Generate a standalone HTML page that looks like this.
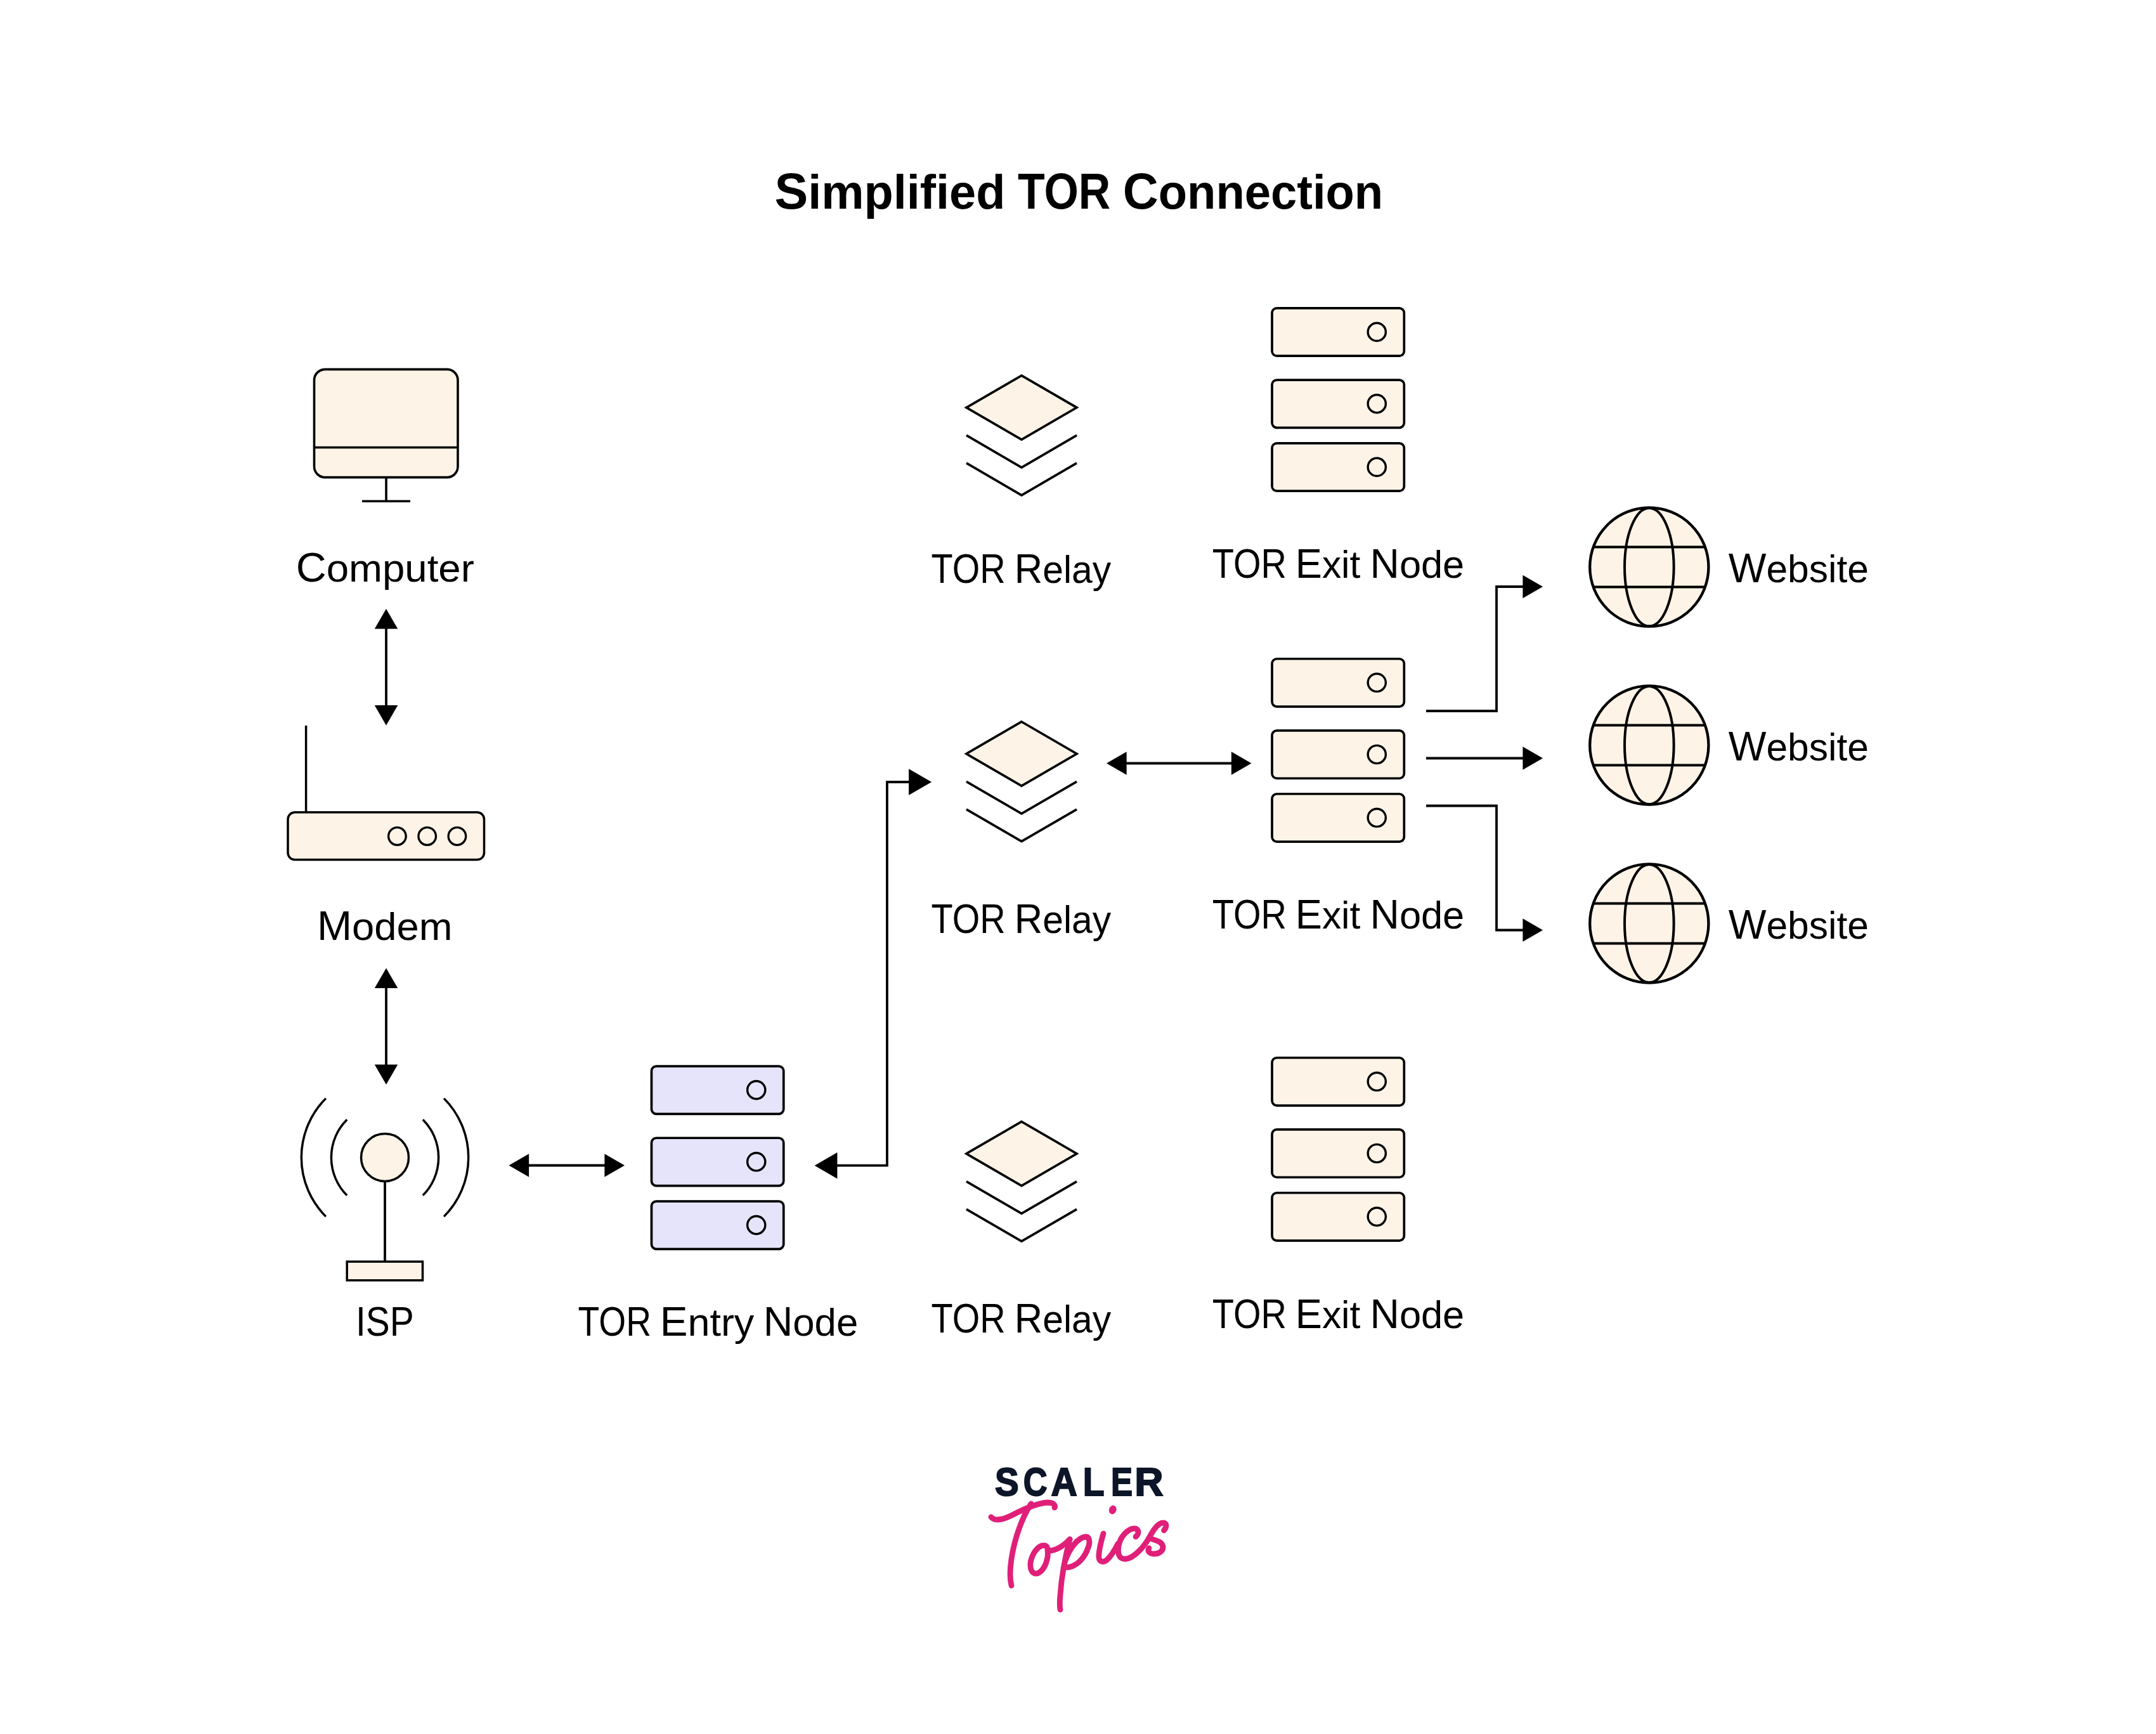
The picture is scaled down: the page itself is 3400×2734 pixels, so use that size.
<!DOCTYPE html>
<html><head><meta charset="utf-8"><style>
html,body{margin:0;padding:0;background:#fff;}
svg{display:block;}
text{font-family:"Liberation Sans", sans-serif;}
</style></head><body>
<svg width="3400" height="2734" viewBox="0 0 3400 2734">
<rect width="3400" height="2734" fill="#fff"/>
<text x="1569.0" y="2357.6" font-size="62.5" font-weight="bold" textLength="37.6" lengthAdjust="spacingAndGlyphs" fill="#0c1628" stroke="#0c1628" stroke-width="2">S</text>
<text x="1613.8" y="2357.6" font-size="62.5" font-weight="bold" textLength="37.79" lengthAdjust="spacingAndGlyphs" fill="#0c1628" stroke="#0c1628" stroke-width="2">C</text>
<text x="1657.6" y="2357.6" font-size="62.5" font-weight="bold" textLength="41.32" lengthAdjust="spacingAndGlyphs" fill="#0c1628" stroke="#0c1628" stroke-width="2">A</text>
<text x="1707.8" y="2357.6" font-size="62.5" font-weight="bold" textLength="33.83" lengthAdjust="spacingAndGlyphs" fill="#0c1628" stroke="#0c1628" stroke-width="2">L</text>
<text x="1752.0" y="2357.6" font-size="62.5" font-weight="bold" textLength="34.08" lengthAdjust="spacingAndGlyphs" fill="#0c1628" stroke="#0c1628" stroke-width="2">E</text>
<text x="1789.2" y="2357.6" font-size="62.5" font-weight="bold" textLength="45.3" lengthAdjust="spacingAndGlyphs" fill="#0c1628" stroke="#0c1628" stroke-width="2">R</text>
<text x="1221.6" y="329.1" font-size="78.78" font-weight="bold" textLength="363.76" lengthAdjust="spacingAndGlyphs" fill="#000">S<tspan font-size="75.39">implified</tspan></text>
<text x="1605.0" y="329.1" font-size="78.78" font-weight="bold" textLength="146.26" lengthAdjust="spacingAndGlyphs" fill="#000">TOR</text>
<text x="1770.8" y="329.1" font-size="78.78" font-weight="bold" textLength="410.37" lengthAdjust="spacingAndGlyphs" fill="#000">C<tspan font-size="75.39">onnection</tspan></text>
<text x="466.8" y="917.2" font-size="64.68" font-weight="normal" textLength="281.06" lengthAdjust="spacingAndGlyphs" fill="#000">C<tspan font-size="61.90">omputer</tspan></text>
<text x="500.0" y="1481.5" font-size="64.68" font-weight="normal" textLength="213.42" lengthAdjust="spacingAndGlyphs" fill="#000">M<tspan font-size="61.90">odem</tspan></text>
<text x="561.0" y="2106.3" font-size="64.68" font-weight="normal" textLength="91.74" lengthAdjust="spacingAndGlyphs" fill="#000">ISP</text>
<text x="911.6" y="2106.3" font-size="64.68" font-weight="normal" textLength="115.37" lengthAdjust="spacingAndGlyphs" fill="#000">TOR</text>
<text x="1040.8" y="2106.3" font-size="64.68" font-weight="normal" textLength="148.43" lengthAdjust="spacingAndGlyphs" fill="#000">E<tspan font-size="61.90">ntry</tspan></text>
<text x="1203.8" y="2106.3" font-size="64.68" font-weight="normal" textLength="149.42" lengthAdjust="spacingAndGlyphs" fill="#000">N<tspan font-size="61.90">ode</tspan></text>
<text x="1468.6" y="919.1" font-size="64.68" font-weight="normal" textLength="116.98" lengthAdjust="spacingAndGlyphs" fill="#000">TOR</text>
<text x="1599.8" y="919.1" font-size="64.68" font-weight="normal" textLength="152.42" lengthAdjust="spacingAndGlyphs" fill="#000">R<tspan font-size="61.90">elay</tspan></text>
<text x="1468.6" y="1471" font-size="64.68" font-weight="normal" textLength="116.98" lengthAdjust="spacingAndGlyphs" fill="#000">TOR</text>
<text x="1599.8" y="1471" font-size="64.68" font-weight="normal" textLength="152.42" lengthAdjust="spacingAndGlyphs" fill="#000">R<tspan font-size="61.90">elay</tspan></text>
<text x="1468.6" y="2101" font-size="64.68" font-weight="normal" textLength="116.98" lengthAdjust="spacingAndGlyphs" fill="#000">TOR</text>
<text x="1599.8" y="2101" font-size="64.68" font-weight="normal" textLength="152.42" lengthAdjust="spacingAndGlyphs" fill="#000">R<tspan font-size="61.90">elay</tspan></text>
<text x="1911.8" y="911" font-size="64.68" font-weight="normal" textLength="117.15" lengthAdjust="spacingAndGlyphs" fill="#000">TOR</text>
<text x="2042.8" y="911" font-size="64.68" font-weight="normal" textLength="102.55" lengthAdjust="spacingAndGlyphs" fill="#000">E<tspan font-size="61.90">xit</tspan></text>
<text x="2160.6" y="911" font-size="64.68" font-weight="normal" textLength="148.64" lengthAdjust="spacingAndGlyphs" fill="#000">N<tspan font-size="61.90">ode</tspan></text>
<text x="1911.8" y="1463.5" font-size="64.68" font-weight="normal" textLength="117.15" lengthAdjust="spacingAndGlyphs" fill="#000">TOR</text>
<text x="2042.8" y="1463.5" font-size="64.68" font-weight="normal" textLength="102.55" lengthAdjust="spacingAndGlyphs" fill="#000">E<tspan font-size="61.90">xit</tspan></text>
<text x="2160.6" y="1463.5" font-size="64.68" font-weight="normal" textLength="148.64" lengthAdjust="spacingAndGlyphs" fill="#000">N<tspan font-size="61.90">ode</tspan></text>
<text x="1911.8" y="2094" font-size="64.68" font-weight="normal" textLength="117.15" lengthAdjust="spacingAndGlyphs" fill="#000">TOR</text>
<text x="2042.8" y="2094" font-size="64.68" font-weight="normal" textLength="102.55" lengthAdjust="spacingAndGlyphs" fill="#000">E<tspan font-size="61.90">xit</tspan></text>
<text x="2160.6" y="2094" font-size="64.68" font-weight="normal" textLength="148.64" lengthAdjust="spacingAndGlyphs" fill="#000">N<tspan font-size="61.90">ode</tspan></text>
<text x="2725.8" y="918.2" font-size="64.68" font-weight="normal" textLength="221.06" lengthAdjust="spacingAndGlyphs" fill="#000">W<tspan font-size="61.90">ebsite</tspan></text>
<text x="2725.8" y="1199" font-size="64.68" font-weight="normal" textLength="221.06" lengthAdjust="spacingAndGlyphs" fill="#000">W<tspan font-size="61.90">ebsite</tspan></text>
<text x="2725.8" y="1480" font-size="64.68" font-weight="normal" textLength="221.06" lengthAdjust="spacingAndGlyphs" fill="#000">W<tspan font-size="61.90">ebsite</tspan></text>
<rect x="495.5" y="582.4" width="226.5" height="170.2" rx="17" fill="#fdf4e7" stroke="#000" stroke-width="3.6"/>
<line x1="495.5" y1="705.5" x2="722" y2="705.5" stroke="#000" stroke-width="3.6"/>
<line x1="609" y1="754" x2="609" y2="790.2" stroke="#000" stroke-width="3.6"/>
<line x1="571" y1="790.2" x2="647" y2="790.2" stroke="#000" stroke-width="3.6"/>
<line x1="609" y1="990.6" x2="609" y2="1113.1000000000001" stroke="#000" stroke-width="3.8"/>
<polygon points="609,960 590.75,991.6 627.25,991.6" fill="#000"/>
<polygon points="609,1143.7 590.75,1112.1000000000001 627.25,1112.1000000000001" fill="#000"/>
<line x1="482.6" y1="1143.9" x2="482.6" y2="1282" stroke="#000" stroke-width="3.5"/>
<rect x="454" y="1280.8" width="309.5" height="74.8" rx="11" fill="#fdf4e7" stroke="#000" stroke-width="3.5"/>
<circle cx="626.4" cy="1318.5" r="13.8" fill="none" stroke="#000" stroke-width="3.3"/>
<circle cx="673.7" cy="1318.5" r="13.8" fill="none" stroke="#000" stroke-width="3.3"/>
<circle cx="720.9" cy="1318.5" r="13.8" fill="none" stroke="#000" stroke-width="3.3"/>
<line x1="609" y1="1557.1" x2="609" y2="1679.4" stroke="#000" stroke-width="3.8"/>
<polygon points="609,1526.5 590.75,1558.1 627.25,1558.1" fill="#000"/>
<polygon points="609,1710 590.75,1678.4 627.25,1678.4" fill="#000"/>
<path d="M547.1787663116181,1765.1787663116181 A84.6,84.6 0 0 0 547.1787663116181,1884.8212336883819" fill="none" stroke="#000" stroke-width="3.5"/>
<path d="M666.8212336883819,1765.1787663116181 A84.6,84.6 0 0 1 666.8212336883819,1884.8212336883819" fill="none" stroke="#000" stroke-width="3.5"/>
<path d="M513.8740369177317,1731.8740369177317 A131.7,131.7 0 0 0 513.8740369177317,1918.1259630822683" fill="none" stroke="#000" stroke-width="3.5"/>
<path d="M700.1259630822683,1731.8740369177317 A131.7,131.7 0 0 1 700.1259630822683,1918.1259630822683" fill="none" stroke="#000" stroke-width="3.5"/>
<line x1="607" y1="1862" x2="607" y2="1990" stroke="#000" stroke-width="3.8"/>
<circle cx="607" cy="1825" r="37.5" fill="#fdf4e7" stroke="#000" stroke-width="3.5"/>
<rect x="547.2" y="1989.2" width="119.3" height="29.5" fill="#fdf4e7" stroke="#000" stroke-width="3.5"/>
<line x1="833.1" y1="1837.5" x2="954.4" y2="1837.5" stroke="#000" stroke-width="3.8"/>
<polygon points="802.5,1837.5 834.1,1819.25 834.1,1855.75" fill="#000"/>
<polygon points="985,1837.5 953.4,1819.25 953.4,1855.75" fill="#000"/>
<rect x="1027.45" y="1681.05" width="208.3" height="75.3" rx="7.5" fill="#e6e4fa" stroke="#000" stroke-width="3.7"/>
<circle cx="1192.7" cy="1718.6" r="14.1" fill="none" stroke="#000" stroke-width="3.4"/>
<rect x="1027.45" y="1794.25" width="208.3" height="75.3" rx="7.5" fill="#e6e4fa" stroke="#000" stroke-width="3.7"/>
<circle cx="1192.7" cy="1831.8" r="14.1" fill="none" stroke="#000" stroke-width="3.4"/>
<rect x="1027.45" y="1894.05" width="208.3" height="75.3" rx="7.5" fill="#e6e4fa" stroke="#000" stroke-width="3.7"/>
<circle cx="1192.7" cy="1931.6" r="14.1" fill="none" stroke="#000" stroke-width="3.4"/>
<polygon points="1284.6,1837.7 1320.3999999999999,1817.0 1320.3999999999999,1858.4" fill="#000"/>
<polyline points="1319.3999999999999,1837.7 1398.9,1837.7 1398.9,1233 1434.3,1233" fill="none" stroke="#000" stroke-width="3.8" stroke-linejoin="miter"/>
<polygon points="1469.1,1233 1433.1,1212.3 1433.1,1253.7" fill="#000"/>
<polygon points="1611,592.1 1698,642.6 1611,693.1 1524,642.6" fill="#fdf4e7" stroke="#000" stroke-width="3.7" stroke-miterlimit="10"/>
<polyline points="1524,686.4 1611,737.0 1698,686.4" fill="none" stroke="#000" stroke-width="3.7" stroke-miterlimit="10"/>
<polyline points="1524,730.2 1611,780.8 1698,730.2" fill="none" stroke="#000" stroke-width="3.7" stroke-miterlimit="10"/>
<polygon points="1611,1138.0 1698,1188.5 1611,1239.0 1524,1188.5" fill="#fdf4e7" stroke="#000" stroke-width="3.7" stroke-miterlimit="10"/>
<polyline points="1524,1232.3 1611,1282.9 1698,1232.3" fill="none" stroke="#000" stroke-width="3.7" stroke-miterlimit="10"/>
<polyline points="1524,1276.1 1611,1326.7 1698,1276.1" fill="none" stroke="#000" stroke-width="3.7" stroke-miterlimit="10"/>
<polygon points="1611,1768.5 1698,1819 1611,1869.5 1524,1819" fill="#fdf4e7" stroke="#000" stroke-width="3.7" stroke-miterlimit="10"/>
<polyline points="1524,1862.8 1611,1913.4 1698,1862.8" fill="none" stroke="#000" stroke-width="3.7" stroke-miterlimit="10"/>
<polyline points="1524,1906.6 1611,1957.2 1698,1906.6" fill="none" stroke="#000" stroke-width="3.7" stroke-miterlimit="10"/>
<rect x="2006.0" y="485.85" width="208.3" height="75.3" rx="7.5" fill="#fdf4e7" stroke="#000" stroke-width="3.7"/>
<circle cx="2171.25" cy="523.4" r="14.1" fill="none" stroke="#000" stroke-width="3.4"/>
<rect x="2006.0" y="599.0500000000001" width="208.3" height="75.3" rx="7.5" fill="#fdf4e7" stroke="#000" stroke-width="3.7"/>
<circle cx="2171.25" cy="636.6" r="14.1" fill="none" stroke="#000" stroke-width="3.4"/>
<rect x="2006.0" y="698.85" width="208.3" height="75.3" rx="7.5" fill="#fdf4e7" stroke="#000" stroke-width="3.7"/>
<circle cx="2171.25" cy="736.4" r="14.1" fill="none" stroke="#000" stroke-width="3.4"/>
<rect x="2006.0" y="1038.75" width="208.3" height="75.3" rx="7.5" fill="#fdf4e7" stroke="#000" stroke-width="3.7"/>
<circle cx="2171.25" cy="1076.3" r="14.1" fill="none" stroke="#000" stroke-width="3.4"/>
<rect x="2006.0" y="1151.95" width="208.3" height="75.3" rx="7.5" fill="#fdf4e7" stroke="#000" stroke-width="3.7"/>
<circle cx="2171.25" cy="1189.5" r="14.1" fill="none" stroke="#000" stroke-width="3.4"/>
<rect x="2006.0" y="1251.75" width="208.3" height="75.3" rx="7.5" fill="#fdf4e7" stroke="#000" stroke-width="3.7"/>
<circle cx="2171.25" cy="1289.3" r="14.1" fill="none" stroke="#000" stroke-width="3.4"/>
<rect x="2006.0" y="1667.75" width="208.3" height="75.3" rx="7.5" fill="#fdf4e7" stroke="#000" stroke-width="3.7"/>
<circle cx="2171.25" cy="1705.3" r="14.1" fill="none" stroke="#000" stroke-width="3.4"/>
<rect x="2006.0" y="1780.95" width="208.3" height="75.3" rx="7.5" fill="#fdf4e7" stroke="#000" stroke-width="3.7"/>
<circle cx="2171.25" cy="1818.5" r="14.1" fill="none" stroke="#000" stroke-width="3.4"/>
<rect x="2006.0" y="1880.75" width="208.3" height="75.3" rx="7.5" fill="#fdf4e7" stroke="#000" stroke-width="3.7"/>
<circle cx="2171.25" cy="1918.3" r="14.1" fill="none" stroke="#000" stroke-width="3.4"/>
<line x1="1775.6" y1="1203.5" x2="1942.9" y2="1203.5" stroke="#000" stroke-width="3.8"/>
<polygon points="1745,1203.5 1776.6,1185.25 1776.6,1221.75" fill="#000"/>
<polygon points="1973.5,1203.5 1941.9,1185.25 1941.9,1221.75" fill="#000"/>
<polyline points="2249,1121 2360,1121 2360,925 2402.4,925" fill="none" stroke="#000" stroke-width="3.8" stroke-linejoin="miter"/>
<polygon points="2433,925 2401.4,906.75 2401.4,943.25" fill="#000"/>
<polyline points="2249,1195.5 2402.4,1195.5" fill="none" stroke="#000" stroke-width="3.8" stroke-linejoin="miter"/>
<polygon points="2433,1195.5 2401.4,1177.25 2401.4,1213.75" fill="#000"/>
<polyline points="2249,1270.5 2360,1270.5 2360,1466.5 2402.4,1466.5" fill="none" stroke="#000" stroke-width="3.8" stroke-linejoin="miter"/>
<polygon points="2433,1466.5 2401.4,1448.25 2401.4,1484.75" fill="#000"/>
<circle cx="2600.8" cy="894.1" r="93.6" fill="#fdf4e7" stroke="#000" stroke-width="4.3"/>
<ellipse cx="2600.8" cy="894.1" rx="38.8" ry="93.1" fill="none" stroke="#000" stroke-width="4"/>
<line x1="2512.6597140916824" y1="862.6" x2="2688.940285908318" y2="862.6" stroke="#000" stroke-width="4"/>
<line x1="2512.6597140916824" y1="925.6" x2="2688.940285908318" y2="925.6" stroke="#000" stroke-width="4"/>
<circle cx="2600.8" cy="1175" r="93.6" fill="#fdf4e7" stroke="#000" stroke-width="4.3"/>
<ellipse cx="2600.8" cy="1175" rx="38.8" ry="93.1" fill="none" stroke="#000" stroke-width="4"/>
<line x1="2512.6597140916824" y1="1143.5" x2="2688.940285908318" y2="1143.5" stroke="#000" stroke-width="4"/>
<line x1="2512.6597140916824" y1="1206.5" x2="2688.940285908318" y2="1206.5" stroke="#000" stroke-width="4"/>
<circle cx="2600.8" cy="1456" r="93.6" fill="#fdf4e7" stroke="#000" stroke-width="4.3"/>
<ellipse cx="2600.8" cy="1456" rx="38.8" ry="93.1" fill="none" stroke="#000" stroke-width="4"/>
<line x1="2512.6597140916824" y1="1424.5" x2="2688.940285908318" y2="1424.5" stroke="#000" stroke-width="4"/>
<line x1="2512.6597140916824" y1="1487.5" x2="2688.940285908318" y2="1487.5" stroke="#000" stroke-width="4"/>
<g fill="none" stroke="#e01f79" stroke-width="8.8" stroke-linecap="round" stroke-linejoin="round">
<path d="M1563,2392 C1568,2398 1580,2397 1596,2389 C1615,2379 1635,2370 1652,2369 C1662,2369 1665,2374 1663,2377"/>
<path d="M1626,2371 C1612,2392 1600,2425 1595,2458 C1592,2478 1593,2492 1595,2500"/>
<path d="M1652,2444 C1652,2436 1647,2436 1643,2437 C1632,2441 1624,2458 1625,2470 C1626,2480 1632,2483 1638,2480 C1648,2474 1654,2457 1652,2444 C1660,2447 1675,2440 1687,2427"/>
<path d="M1687,2427 C1681,2450 1674,2485 1672,2515 C1671,2525 1671,2532 1672,2538"/>
<path d="M1680,2461 C1686,2442 1700,2424 1712,2423 C1719,2423 1719,2433 1716,2440 C1711,2455 1700,2468 1686,2471 C1682,2472 1680,2470 1679,2468"/>
<path d="M1740,2418 C1736,2432 1732,2447 1733,2456 C1734,2463 1740,2464 1745,2460 C1752,2454 1758,2444 1763,2434"/>
<path d="M1791,2423 C1797,2418 1796,2410 1789,2410 C1778,2410 1766,2424 1764,2438 C1762,2450 1765,2458 1774,2458 C1786,2458 1802,2442 1812,2425"/>
<path d="M1811.5,2426 C1818,2413 1826,2401.5 1834,2401 C1839.5,2400.5 1841,2407 1835.5,2413"/>
<path d="M1812,2425 C1822,2429 1833,2430 1834,2439 C1834,2447 1826,2450 1820,2450 C1813,2450 1809,2446 1812,2441"/>
</g>
<ellipse cx="1754.7" cy="2380.5" rx="5.8" ry="7" transform="rotate(20 1754.7 2380.5)" fill="#e01f79"/>

</svg>
</body></html>
